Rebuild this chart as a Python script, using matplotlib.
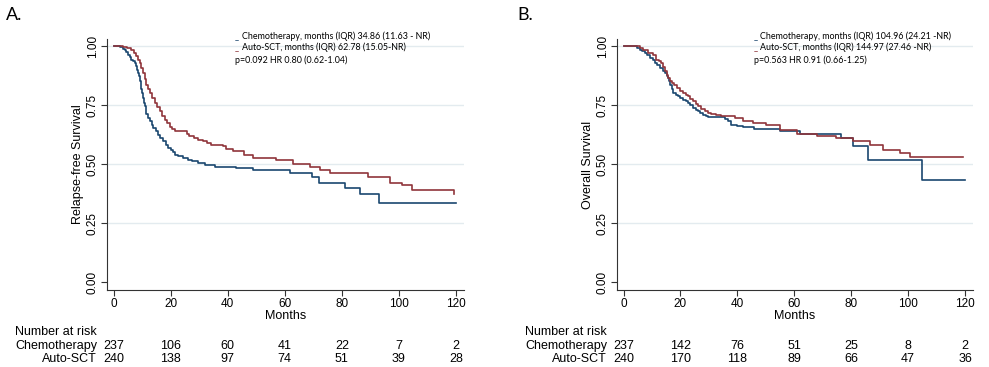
import matplotlib
matplotlib.use("Agg")
import matplotlib.pyplot as plt
import matplotlib.transforms as mtransforms

# panel A: relapse-free survival (step points, months / survival)
rfs_chemo_t = [0, 2.3, 3.3, 4.0, 4.5, 5.1, 5.7, 6.2, 6.8, 7.4, 8.0, 8.3, 8.6, 8.9, 9.2, 9.5, 9.7,
               10.0, 10.3, 10.6, 10.9, 11.2, 11.5, 12.1, 12.7, 13.3, 13.8, 14.7, 15.6, 16.4, 17.3,
               18.2, 19.1, 20.0, 20.8, 21.7, 22.6, 24.3, 26.1, 27.5, 29.5, 32, 35.5, 43, 49, 62,
               69.6, 72, 81, 86.5, 93, 120]
rfs_chemo_s = [1.0, 0.997, 0.99, 0.986, 0.975, 0.965, 0.955, 0.944, 0.937, 0.93, 0.915, 0.90,
               0.887, 0.873, 0.855, 0.837, 0.82, 0.80, 0.78, 0.76, 0.745, 0.731, 0.714, 0.696,
               0.682, 0.668, 0.654, 0.64, 0.625, 0.611, 0.597, 0.583, 0.571, 0.56, 0.55, 0.54,
               0.533, 0.526, 0.519, 0.512, 0.505, 0.498, 0.49, 0.483, 0.476, 0.462, 0.448, 0.42,
               0.40, 0.375, 0.335, 0.335]
rfs_asct_t = [0, 3.3, 4.7, 6.2, 7.1, 8.0, 8.6, 9.2, 9.7, 10.3, 10.9, 11.5, 12.1, 12.7, 13.5, 14.4,
              15.3, 16.2, 17.0, 17.9, 18.8, 19.7, 20.5, 21.4, 24.9, 25.7, 26.6, 28.1, 29.6, 31.2,
              32.8, 34.3, 38.5, 39.5, 42, 45.6, 49, 57, 63, 69, 72.5, 76, 89, 97, 101, 104.7,
              119.3]
rfs_asct_s = [1.0, 0.997, 0.993, 0.986, 0.972, 0.958, 0.944, 0.93, 0.91, 0.887, 0.862, 0.837,
              0.818, 0.80, 0.78, 0.76, 0.742, 0.724, 0.706, 0.689, 0.675, 0.66, 0.651, 0.643,
              0.64, 0.629, 0.618, 0.611, 0.604, 0.597, 0.59, 0.583, 0.576, 0.564, 0.555, 0.54,
              0.526, 0.516, 0.50, 0.49, 0.476, 0.462, 0.448, 0.42, 0.41, 0.389, 0.375]

# panel B: overall survival
os_chemo_t = [0, 4.6, 5.7, 6.6, 7.5, 8.4, 9.3, 10.2, 11.0, 11.9, 12.8, 13.7, 14.5, 15.1, 15.7,
              16.0, 16.3, 16.9, 17.4, 18.3, 19.2, 20.0, 20.9, 21.8, 22.7, 23.5, 24.4, 25.3, 26.2,
              27.0, 27.9, 28.8, 29.6, 35.5, 36.6, 37.8, 40, 42, 46, 55, 62, 76.5, 80.6, 85.9,
              105, 120]
os_chemo_s = [1.0, 0.993, 0.986, 0.979, 0.972, 0.962, 0.951, 0.94, 0.93, 0.919, 0.908, 0.897,
              0.887, 0.876, 0.866, 0.851, 0.837, 0.818, 0.80, 0.794, 0.788, 0.781, 0.774, 0.767,
              0.76, 0.75, 0.739, 0.731, 0.724, 0.717, 0.71, 0.705, 0.70, 0.69, 0.682, 0.668,
              0.662, 0.657, 0.65, 0.64, 0.628, 0.61, 0.578, 0.52, 0.434, 0.434]
os_asct_t = [0, 5.7, 6.9, 8.6, 10.4, 11.5, 12.4, 13.3, 13.9, 14.5, 15.1, 15.7, 16.3, 16.9, 17.8,
             18.7, 19.8, 20.9, 21.8, 22.7, 23.5, 24.4, 25.3, 26.2, 27.3, 28.5, 29.7, 30.9, 32.6,
             34.4, 39.1, 42, 45.6, 50, 55, 61, 68, 74.8, 80.6, 86.5, 91, 97, 100.5, 119.2]
os_asct_s = [1.0, 0.993, 0.986, 0.972, 0.965, 0.944, 0.937, 0.93, 0.912, 0.894, 0.88, 0.866,
             0.855, 0.845, 0.834, 0.823, 0.811, 0.80, 0.794, 0.788, 0.777, 0.767, 0.756, 0.745,
             0.735, 0.724, 0.719, 0.714, 0.708, 0.703, 0.696, 0.685, 0.675, 0.667, 0.646, 0.628,
             0.618, 0.61, 0.60, 0.583, 0.56, 0.547, 0.53, 0.53]

risk_times = [0, 20, 40, 60, 80, 100, 120]
rfs_risk_chemo = [237, 106, 60, 41, 22, 7, 2]
rfs_risk_asct = [240, 138, 97, 74, 51, 39, 28]
os_risk_chemo = [237, 142, 76, 51, 25, 8, 2]
os_risk_asct = [240, 170, 118, 89, 66, 47, 36]

rfs_legend = ["Chemotherapy, months (IQR) 34.86 (11.63 - NR)",
              "Auto-SCT, months (IQR) 62.78 (15.05-NR)",
              "p=0.092 HR 0.80 (0.62-1.04)"]
os_legend = ["Chemotherapy, months (IQR) 104.96 (24.21 -NR)",
             "Auto-SCT, months (IQR) 144.97 (27.46 -NR)",
             "p=0.563 HR 0.91 (0.66-1.25)"]

NAVY = "#1a476f"
MAROON = "#90353b"
GRID = "#e3ebef"
W, H = 989, 367
LEG_FS = 6.4

plt.rcParams['font.family'] = ['Liberation Sans', 'DejaVu Sans']

fig = plt.figure(figsize=(W / 100, H / 100), dpi=100)


def fx(px):
    return px / W


def fy(py):
    return 1 - py / H


def panel(left_px, right_px, letter, letter_x, ylabel,
          chemo_t, chemo_s, asct_t, asct_s, risk_c, risk_a, legend, leg_x):
    ax = fig.add_axes([fx(left_px), fy(290), fx(right_px - left_px), (290 - 39) / H])
    ax.set_xlim(-2.3, 122.8)
    ax.set_ylim(-0.033, 1.031)
    for yv in [0.25, 0.5, 0.75, 1.0]:
        ax.axhline(yv, color=GRID, lw=1.0, zorder=0)
    ax.step(chemo_t, chemo_s, where='post', color=NAVY, lw=1.2)
    ax.step(asct_t, asct_s, where='post', color=MAROON, lw=1.2)
    ax.spines['top'].set_visible(False)
    ax.spines['right'].set_visible(False)
    for sp in ['left', 'bottom']:
        ax.spines[sp].set_color('#333333')
        ax.spines[sp].set_linewidth(0.8)
    ax.set_xticks(risk_times)
    ax.set_yticks([0, 0.25, 0.5, 0.75, 1.0])
    ax.set_yticklabels(["0.00", "0.25", "0.50", "0.75", "1.00"], rotation=90, va='center')
    ax.tick_params(labelsize=8.5, length=4, width=0.8, color='#333333', pad=2)
    ax.set_xlabel("Months", fontsize=9, labelpad=0)
    ax.set_ylabel(ylabel, fontsize=9, labelpad=2)

    # panel letter
    fig.text(fx(letter_x), fy(15), letter, fontsize=13, family='Lato', va='center')

    # legend text (Stata-like)
    lx = fx(leg_x)
    fig.text(lx, fy(36.7), "_", color=NAVY, fontsize=LEG_FS, family='Lato', va='center')
    fig.text(lx + fx(6.5), fy(36.7), legend[0], fontsize=LEG_FS, family='Lato', va='center')
    fig.text(lx, fy(47.7), "_", color=MAROON, fontsize=LEG_FS, family='Lato', va='center')
    fig.text(lx + fx(6.5), fy(47.7), legend[1], fontsize=LEG_FS, family='Lato', va='center')
    fig.text(lx, fy(60), legend[2], fontsize=LEG_FS, family='Lato', va='center')

    # number at risk table
    trans = mtransforms.blended_transform_factory(ax.transData, fig.transFigure)
    rx = fx(left_px - 10)
    fig.text(rx, fy(331.7), "Number at risk", fontsize=9, ha='right', va='center')
    fig.text(rx, fy(345.7), "Chemotherapy", fontsize=9, ha='right', va='center')
    fig.text(rx, fy(359), "Auto-SCT", fontsize=9, ha='right', va='center')
    for t, c, a in zip(risk_times, risk_c, risk_a):
        ax.text(t, fy(345.7), str(c), transform=trans, fontsize=9, ha='center', va='center')
        ax.text(t, fy(359), str(a), transform=trans, fontsize=9, ha='center', va='center')
    return ax


panel(107, 464, "A.", 6, "Relapse-free Survival",
      rfs_chemo_t, rfs_chemo_s, rfs_asct_t, rfs_asct_s,
      rfs_risk_chemo, rfs_risk_asct, rfs_legend, 235)
panel(617, 973, "B.", 517, "Overall Survival",
      os_chemo_t, os_chemo_s, os_asct_t, os_asct_s,
      os_risk_chemo, os_risk_asct, os_legend, 754)

fig.savefig("out.png", dpi=100, facecolor='white')
